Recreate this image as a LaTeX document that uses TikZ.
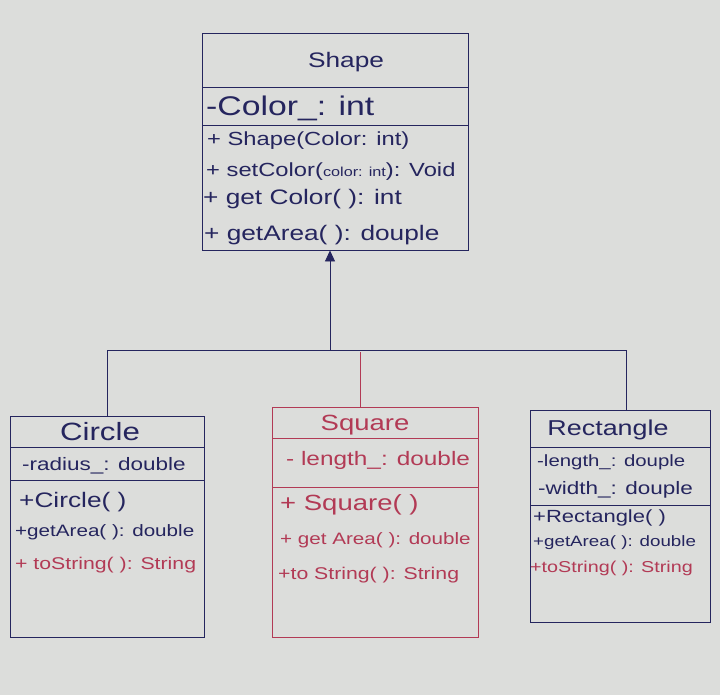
\documentclass[tikz,border=0pt]{standalone}
\usepackage{fontspec}
\setmainfont[FakeStretch=1.25]{Liberation Sans}
\usetikzlibrary{arrows.meta}
\definecolor{paper}{HTML}{DCDDDB}
\definecolor{ink}{HTML}{25255E}
\definecolor{redink}{HTML}{B23A55}
\tikzset{
  classbox/.style={draw=ink, line width=0.9pt, rectangle, inner sep=0pt},
  redbox/.style={draw=redink, line width=0.9pt, rectangle, inner sep=0pt},
  sep/.style={draw=ink, line width=0.8pt},
  redsep/.style={draw=redink, line width=0.8pt},
  txt/.style={anchor=west, inner sep=0pt, text=ink},
  rtxt/.style={anchor=west, inner sep=0pt, text=redink},
  ttl/.style={anchor=center, inner sep=0pt, text=ink},
  link/.style={draw=ink, line width=0.8pt},
  rlink/.style={draw=redink, line width=0.8pt},
}
\newcommand{\fs}[1]{\fontsize{#1}{#1}\selectfont}
\begin{document}
\begin{tikzpicture}[x=1pt, y=-1pt]
\fill[paper] (0,0) rectangle (720,695);
\useasboundingbox (0,0) rectangle (720,695);

% Shape
\node[classbox, minimum width=266pt, minimum height=217pt] (shape) at (335,141.5) {};
\draw[sep] (202,87) -- (468,87);
\draw[sep] (202,125) -- (468,125);
\node[ttl, font=\fs{21}] (shapeT) at (346,62) {Shape};
\node[txt, font=\fs{27}] (shapeA) at (206,108) {-Color\_: int};
\node[txt, font=\fs{19}] (shapeM1) at (207,141) {+ Shape(Color: int)};
\node[txt, font=\fs{19}] (shapeM2) at (206,172) {+ setColor({\fs{13}color: int}): Void};
\node[txt, font=\fs{21}] (shapeM3) at (203,199) {+ get Color( ): int};
\node[txt, font=\fs{21}] (shapeM4) at (204,235) {+ getArea( ): douple};

% Circle
\node[classbox, minimum width=194pt, minimum height=221pt] (circle) at (107,526.5) {};
\draw[sep] (10,447) -- (204,447);
\draw[sep] (10,480) -- (204,480);
\node[ttl, font=\fs{25}] (circleT) at (100,432) {Circle};
\node[txt, font=\fs{18}] (circleA) at (22,466) {-radius\_: double};
\node[txt, font=\fs{21}] (circleM1) at (19,502) {+Circle( )};
\node[txt, font=\fs{16.5}] (circleM2) at (15,532) {+getArea( ): double};
\node[rtxt, font=\fs{17}] (circleM3) at (15,565) {+ toString( ): String};

% Square
\node[redbox, minimum width=206pt, minimum height=230pt] (square) at (375,522) {};
\draw[redsep] (272,438) -- (478,438);
\draw[redsep] (272,487) -- (478,487);
\node[rtxt, font=\fs{22}, anchor=center] (squareT) at (365,425) {Square};
\node[rtxt, font=\fs{19.5}] (squareA) at (286,460) {- length\_: double};
\node[rtxt, font=\fs{22}] (squareM1) at (280,505) {+ Square( )};
\node[rtxt, font=\fs{16.5}] (squareM2) at (280,540) {+ get Area( ): double};
\node[rtxt, font=\fs{17}] (squareM3) at (278,575) {+to String( ): String};

% Rectangle
\node[classbox, minimum width=180pt, minimum height=212pt] (rect) at (620,516) {};
\draw[sep] (530,447) -- (710,447);
\draw[sep] (530,505) -- (710,505);
\node[ttl, font=\fs{21.5}] (rectT) at (608,430) {Rectangle};
\node[txt, font=\fs{16.3}] (rectA1) at (537,462) {-length\_: douple};
\node[txt, font=\fs{18}] (rectA2) at (538,490) {-width\_: douple};
\node[txt, font=\fs{17.6}] (rectM1) at (533,518) {+Rectangle( )};
\node[txt, font=\fs{15}] (rectM2) at (533,543) {+getArea( ): double};
\node[rtxt, font=\fs{15.8}] (rectM3) at (530,568) {+toString( ): String};

% connectors
\coordinate (j) at (330,350);
\coordinate (jl) at (107,350);
\coordinate (jr) at (626,350);
\coordinate (jsq) at (360,352);
\draw[link, -{Triangle[length=11pt, width=10pt]}] (j) -- (j |- shape.south);
\draw[link] (jl) -- (jr);
\draw[link] (jl) -- (circle.north);
\draw[link] (jr) -- (jr |- rect.north);
\draw[rlink] (jsq) -- (jsq |- square.north);
\end{tikzpicture}
\end{document}
